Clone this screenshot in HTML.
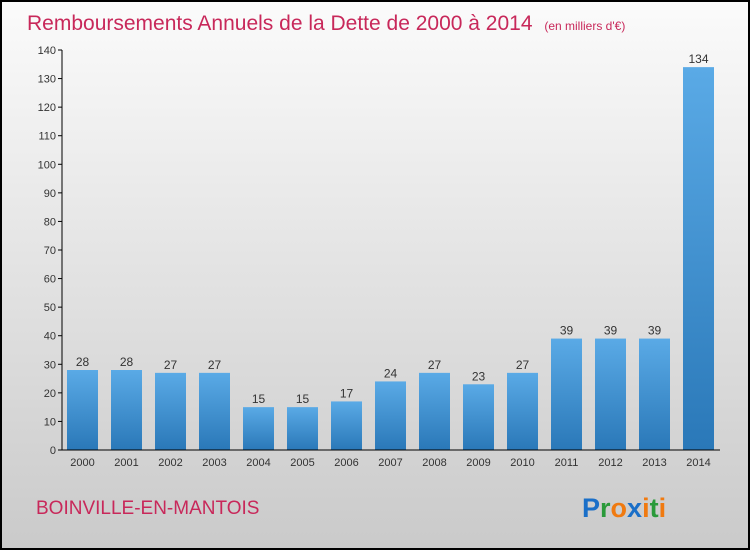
<!DOCTYPE html>
<html><head><meta charset="utf-8"><style>
body{margin:0;width:750px;height:550px;overflow:hidden;font-family:"Liberation Sans",sans-serif}
</style></head><body>
<svg width="750" height="550" xmlns="http://www.w3.org/2000/svg">
<defs>
<linearGradient id="bg" x1="0" y1="0" x2="0" y2="1"><stop offset="0" stop-color="#fbfbfb"/><stop offset="1" stop-color="#cacaca"/></linearGradient>
<linearGradient id="bar" x1="0" y1="0" x2="0" y2="1"><stop offset="0" stop-color="#5aaae6"/><stop offset="1" stop-color="#2a78b8"/></linearGradient>
</defs>
<rect x="1" y="1" width="748" height="548" fill="url(#bg)" stroke="#000" stroke-width="2"/>
<text x="27" y="30" font-size="21" fill="#c8285a">Remboursements Annuels de la Dette de 2000 à 2014 <tspan font-size="12" dx="6">(en milliers d'€)</tspan></text>
<g id="yaxis"></g><g id="bars"></g>
<line x1="62" y1="450" x2="720" y2="450" stroke="#000"/>
<line x1="62" y1="50" x2="62" y2="450" stroke="#000"/>
<text x="36" y="514" font-size="19" fill="#c8285a">BOINVILLE-EN-MANTOIS</text>
<text x="582" y="517" font-size="27" font-weight="bold"><tspan fill="#1a6fc8">P</tspan><tspan fill="#2a9a3a">r</tspan><tspan fill="#f07a10">o</tspan><tspan fill="#1a6fc8">x</tspan><tspan fill="#f07a10">i</tspan><tspan fill="#2a9a3a">t</tspan><tspan fill="#f07a10">i</tspan></text>
</svg>
<script>
const years=["2000","2001","2002","2003","2004","2005","2006","2007","2008","2009","2010","2011","2012","2013","2014"];
const values=[28,28,27,27,15,15,17,24,27,23,27,39,39,39,134];
const yTicks=[0,10,20,30,40,50,60,70,80,90,100,110,120,130,140];
const ns="http://www.w3.org/2000/svg";
const y=v=>450-v*400/140;
const x=i=>67+i*44;
function mk(t,a,p){const e=document.createElementNS(ns,t);for(const k in a)e.setAttribute(k,a[k]);p.appendChild(e);return e;}
const ya=document.getElementById('yaxis'),bg=document.getElementById('bars');
yTicks.forEach(v=>{
 const l=mk('line',{x1:58,x2:62,y1:y(v),y2:y(v),stroke:'#000'},ya);
 
 
 const t=mk('text',{x:56,y:y(v)+4,'font-size':11,'text-anchor':'end',fill:'#333'},ya);
 t.textContent=v;
 
 
});
values.forEach((v,i)=>{
 const r=mk('rect',{x:x(i),y:y(v),width:31,height:450-y(v),fill:'url(#bar)'},bg);
 
 
 const t=mk('text',{x:x(i)+15.5,y:y(v)-4,'font-size':12,'text-anchor':'middle',fill:'#333'},bg);
 t.textContent=v;
 
 
 const xl=mk('text',{x:x(i)+15.5,y:466,'font-size':11,'text-anchor':'middle',fill:'#333'},bg);
 xl.textContent=years[i];
 
 
});
</script>
</body></html>
